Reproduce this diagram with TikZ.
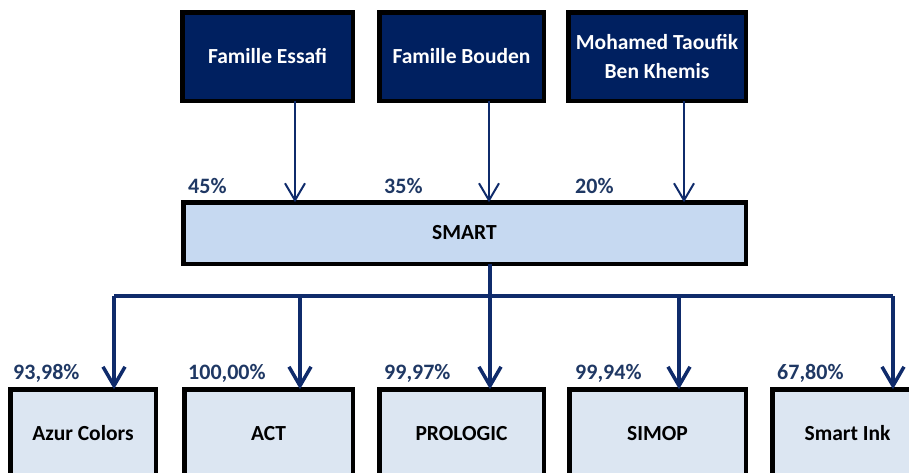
\documentclass[tikz,border=0pt]{standalone}
\usepackage{fontspec}
\setmainfont{Carlito}
\usetikzlibrary{arrows.meta}
\definecolor{navy}{HTML}{002060}
\definecolor{arrowc}{HTML}{0F2B6B}
\definecolor{pctc}{HTML}{1F3864}
\definecolor{smartfill}{HTML}{C6D9F1}
\definecolor{subfill}{HTML}{DCE6F2}
\tikzset{
  x=1pt,y=-1pt,
  box/.style={draw=black,line width=4.5pt,rectangle,inner sep=0pt,outer sep=0pt,align=center,
    font=\fontsize{21.5}{29}\selectfont\bfseries},
  topbox/.style={box,fill=navy,text=white,minimum height=88.5},
  smartbox/.style={box,fill=smartfill,text=black,minimum height=61.5},
  subbox/.style={box,fill=subfill,text=black,minimum height=88.5},
  pct/.style={anchor=base west,inner sep=0pt,text=pctc,font=\fontsize{22}{26}\selectfont\bfseries},
  toparrow/.style={draw=arrowc,line width=2pt,-{Straight Barb[length=17pt,width=20pt]}},
  busline/.style={draw=arrowc,line width=3.5pt},
  subarrow/.style={busline,-{Straight Barb[length=19pt,width=22pt]}}
}
\begin{document}
\begin{tikzpicture}
\useasboundingbox (0,0) rectangle (909,472);
\clip (0,0) rectangle (909,472);
% top boxes
\node[topbox,minimum width=170.5] (essafi) at (267.5,56.5) {Famille Essafi};
\node[topbox,minimum width=164.5] (bouden) at (461.5,56.5) {Famille Bouden};
\node[topbox,minimum width=177.5] (khemis) at (657,56.5) {Mohamed Taoufik\\Ben Khemis};
% SMART
\node[smartbox,minimum width=562.5] (smart) at (464.5,233) {SMART};
% subsidiaries
\node[subbox,minimum width=145.5] (azur) at (83,433.5) {Azur Colors};
\node[subbox,minimum width=168.5] (act) at (268.5,433.5) {ACT};
\node[subbox,minimum width=164.5] (prologic) at (461.5,433.5) {PROLOGIC};
\node[subbox,minimum width=176.5] (simop) at (657.5,433.5) {SIMOP};
\node[subbox,minimum width=150.5] (smartink) at (847.5,433.5) {Smart Ink};
% percent labels
\node[pct] (p45) at (188,193) {45\%};
\node[pct] (p35) at (384,193) {35\%};
\node[pct] (p20) at (575,193) {20\%};
\node[pct] (p1) at (13,379) {93,98\%};
\node[pct] (p2) at (188,379) {100,00\%};
\node[pct] (p3) at (384,379) {99,97\%};
\node[pct] (p4) at (575,379) {99,94\%};
\node[pct] (p5) at (777,379) {67,80\%};
% top arrows
\coordinate (xa) at (295,0);
\coordinate (xb) at (489,0);
\coordinate (xc) at (684,0);
\draw[toparrow] (essafi.south -| xa) -- (smart.north -| xa);
\draw[toparrow] (bouden.south -| xb) -- (smart.north -| xb);
\draw[toparrow] (khemis.south -| xc) -- (smart.north -| xc);
% bus
\coordinate (b1) at (114,296);
\coordinate (b2) at (300,296);
\coordinate (b3) at (490,296);
\coordinate (b4) at (679,296);
\coordinate (b5) at (893,296);
\draw[busline] (smart.south -| b3) -- (b3);
\draw[busline] (b1) -- (b5);
\draw[subarrow] (b1) -- (azur.north -| b1);
\draw[subarrow] (b2) -- (act.north -| b2);
\draw[subarrow] (b3) -- (prologic.north -| b3);
\draw[subarrow] (b4) -- (simop.north -| b4);
\draw[subarrow] (b5) -- (smartink.north -| b5);
\end{tikzpicture}
\end{document}
